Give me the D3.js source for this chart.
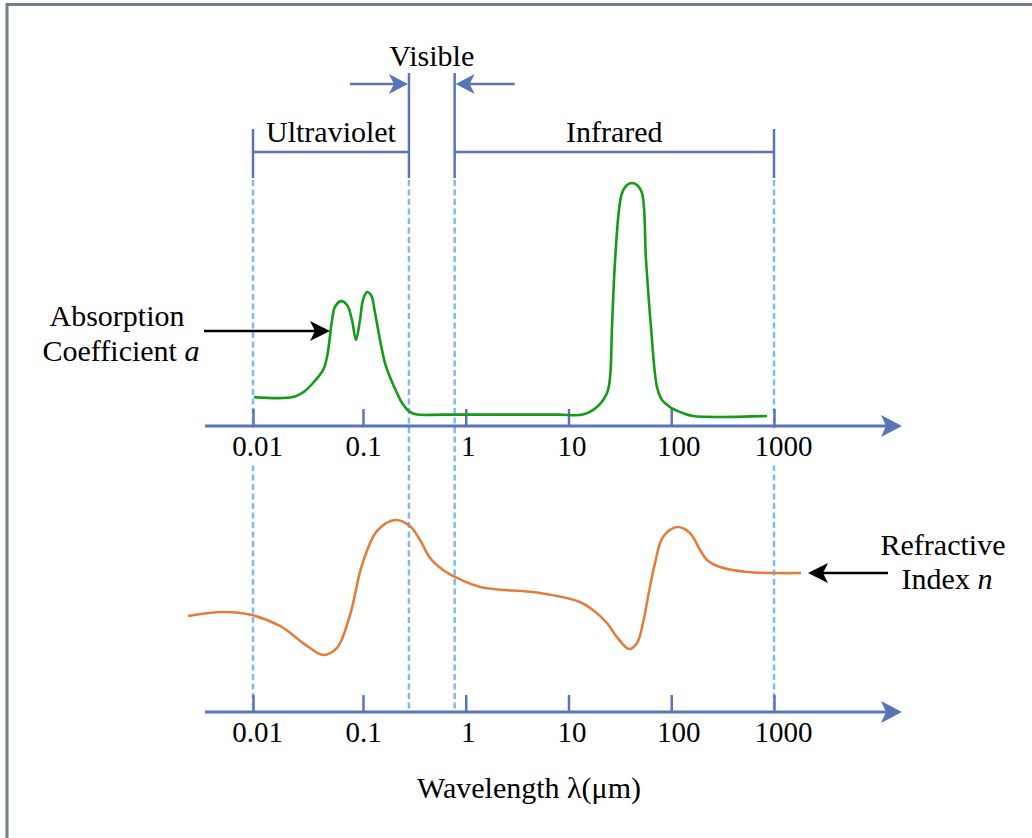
<!DOCTYPE html>
<html>
<head>
<meta charset="utf-8">
<script src="https://cdn.jsdelivr.net/npm/d3@7"></script>
<style>
  html, body { margin: 0; padding: 0; background: #fff; }
  svg text { font-family: "Liberation Serif", "Times New Roman", serif; fill: #000; }
</style>
</head>
<body>
<svg id="chart" width="1032" height="838"></svg>
<script>
// ---- data (wavelength in µm, curve values in relative units 0..1) ----
const tickValues = [0.01, 0.1, 1, 10, 100, 1000];
const tickLabels = ['0.01', '0.1', '1', '10', '100', '1000'];

// band edges: ultraviolet starts at 0.01, visible spans 0.28..0.78, infrared ends at 1000
const bandEdges = [0.01, 0.28, 0.78, 1000];
const bandNames = ['Ultraviolet', 'Visible', 'Infrared'];

const absorptionWl = [0.0102, 0.0231, 0.0297, 0.0351, 0.0433, 0.0471, 0.0523, 0.0556, 0.0631, 0.0716,
    0.0794, 0.0864, 0.0939, 0.1, 0.1094, 0.1197, 0.131, 0.1464, 0.1637, 0.183, 0.214, 0.24, 0.286, 0.336,
    0.6, 2.0, 8.0, 13.8, 18.9, 23.7, 25.4, 26.5, 28.4, 31.0, 33.2, 37.1, 41.5, 46.4, 51.9, 56.8, 63.5, 72.7,
    81.3, 97.3, 130, 163, 855];
const absorptionVal = [0.119, 0.119, 0.144, 0.177, 0.23, 0.284, 0.436, 0.49, 0.514, 0.498,
    0.436, 0.354, 0.436, 0.519, 0.551, 0.539, 0.465, 0.354, 0.259, 0.202, 0.136, 0.095, 0.058, 0.047,
    0.047, 0.047, 0.047, 0.047, 0.078, 0.136, 0.202, 0.407, 0.683, 0.889, 0.959, 0.992, 1.0, 0.992, 0.959, 0.683, 0.407, 0.16,
    0.107, 0.078, 0.053, 0.041, 0.041];

const indexWl = [0.00257, 0.00534, 0.0098, 0.0176, 0.031, 0.0433, 0.058, 0.0762, 0.098, 0.137,
    0.205, 0.286, 0.359, 0.449, 0.601, 0.785, 1.38, 5.28, 12.9, 17.3, 23.7, 29.6, 38.8, 46.4,
    53.1, 59.4, 69.5, 83.1, 114, 152, 190.5, 223, 298, 546, 978, 1832];
const indexVal = [0.289, 0.319, 0.296, 0.215, 0.067, 0.0, 0.052, 0.296, 0.667, 0.919,
    1.0, 0.956, 0.852, 0.719, 0.63, 0.578, 0.504, 0.459, 0.393, 0.333, 0.237, 0.133, 0.044, 0.089,
    0.237, 0.43, 0.681, 0.874, 0.948, 0.904, 0.778, 0.704, 0.652, 0.615, 0.607, 0.607];

// ---- layout ----
const W = 1032, H = 838;
const COLORS = {
    axis: '#5a74b9',
    guide: '#7dbaf3',
    frame: '#737f8a',
    absorption: '#17991a',
    index: '#e07f3c',
    text: '#000'
};
const topAxisY = 426;
const bottomAxisY = 712;
const axisStartX = 205;
const axisEndX = 902;

const x = d3.scaleLog()
    .domain([0.01, 0.1, 1000])
    .range([253, 363, 774]);

const yA = d3.scaleLinear().domain([0, 1]).range([topAxisY, 183]);
const yN = d3.scaleLinear().domain([0, 1]).range([655, 520]);

const svg = d3.select('#chart');

/**
 * Concave arrowhead path with its tip at (0,0), pointing to +x.
 */
function arrowHead(len, half) {
    return `M0,0 L${-len},${-half} L${-len + 5},0 L${-len},${half} Z`;
}

/**
 * Horizontal arrow from x0 to the tip at x1.
 */
function drawArrow(g, x0, x1, y, color, width, len, half) {
    const dir = x1 > x0 ? 1 : -1;
    g.append('line')
        .attr('x1', x0).attr('x2', x1 - dir * (len - 6))
        .attr('y1', y).attr('y2', y)
        .attr('stroke', color).attr('stroke-width', width);
    g.append('path')
        .attr('d', arrowHead(len, half))
        .attr('transform', `translate(${x1},${y}) scale(${dir},1)`)
        .attr('fill', color);
}

// frame (only top and left edges fall inside the picture)
svg.append('path')
    .attr('d', `M7,${H} L7,4.5 L${W},4.5`)
    .attr('fill', 'none')
    .attr('stroke', COLORS.frame)
    .attr('stroke-width', 3);

// dashed guides at the band edges
svg.append('g').attr('class', 'guides')
    .selectAll('line')
    .data(bandEdges)
    .join('line')
    .attr('x1', d => x(d)).attr('x2', d => x(d))
    .attr('y1', 180).attr('y2', bottomAxisY)
    .attr('stroke', COLORS.guide)
    .attr('stroke-width', 2.5)
    .attr('stroke-dasharray', '6,3.5');

// band brackets
const brackets = svg.append('g').attr('class', 'brackets')
    .attr('stroke', COLORS.axis).attr('stroke-width', 2.5).attr('fill', 'none');
const bx = bandEdges.map(x);
brackets.append('path').attr('d', `M${bx[0]},129 V178 M${bx[0]},152 H${bx[1]}`);
brackets.append('path').attr('d', `M${bx[1]},73 V178 M${bx[2]},73 V178`);
brackets.append('path').attr('d', `M${bx[2]},152 H${bx[3]} M${bx[3]},129 V178`);

const arrows = svg.append('g').attr('class', 'arrows');
drawArrow(arrows, bx[1] - 59, bx[1] - 1, 84, COLORS.axis, 2.5, 19, 10);
drawArrow(arrows, bx[2] + 60, bx[2] + 1, 84, COLORS.axis, 2.5, 19, 10);

const labels = svg.append('g').attr('class', 'band-labels')
    .attr('font-size', 30).attr('text-anchor', 'middle');
labels.append('text').attr('x', (bx[0] + bx[1]) / 2).attr('y', 142).text(bandNames[0]);
labels.append('text').attr('x', (bx[1] + bx[2]) / 2).attr('y', 66).text(bandNames[1]);
labels.append('text').attr('x', (bx[2] + bx[3]) / 2).attr('y', 142).text(bandNames[2]);

/**
 * Log axis with upward ticks, drawn at y, with an arrow at its end.
 */
function drawAxis(y, masked) {
    const g = svg.append('g')
        .attr('class', 'axis')
        .attr('transform', `translate(0,${y})`);
    const axis = d3.axisBottom(x)
        .tickValues(tickValues)
        .tickFormat((d, i) => tickLabels[i])
        .tickSizeInner(-17)
        .tickSizeOuter(0)
        .tickPadding(9);
    g.call(axis);
    g.select('.domain').remove();
    g.selectAll('.tick line').attr('stroke', COLORS.axis).attr('stroke-width', 2.5);
    g.selectAll('.tick text')
        .attr('font-size', 29)
        .attr('font-family', '"Liberation Serif", "Times New Roman", serif')
        .attr('fill', COLORS.text)
        .attr('dx', (d, i) => [4, 0, 2, 3, 7, 9][i]);
    if (masked) {
        // white boxes keep the dashed guides from running through the labels
        g.selectAll('.tick').each(function() {
            const t = d3.select(this).select('text');
            const b = t.node().getBBox();
            d3.select(this).insert('rect', 'text')
                .attr('x', b.x - 2 + (+t.attr('dx')))
                .attr('y', 2)
                .attr('width', b.width + 4)
                .attr('height', b.y + b.height + 2)
                .attr('fill', '#fff');
        });
    }
    drawArrow(g, axisStartX, axisEndX, 0, COLORS.axis, 3, 21, 11);
}

drawAxis(topAxisY, true);
drawAxis(bottomAxisY, false);

// curves
const lineA = d3.line()
    .x((d, i) => x(absorptionWl[i]))
    .y(d => yA(d))
    .curve(d3.curveCatmullRom.alpha(0.5));
svg.append('path')
    .datum(absorptionVal)
    .attr('d', lineA)
    .attr('fill', 'none')
    .attr('stroke', COLORS.absorption)
    .attr('stroke-width', 2.6);

const lineN = d3.line()
    .x((d, i) => x(indexWl[i]))
    .y(d => yN(d))
    .curve(d3.curveCatmullRom.alpha(0.5));
svg.append('path')
    .datum(indexVal)
    .attr('d', lineN)
    .attr('fill', 'none')
    .attr('stroke', COLORS.index)
    .attr('stroke-width', 2.6);

// annotations
const notes = svg.append('g').attr('font-size', 30).attr('text-anchor', 'middle');
notes.append('text').attr('x', 117).attr('y', 326).text('Absorption');
const coef = notes.append('text').attr('x', 121).attr('y', 361);
coef.append('tspan').text('Coefficient ');
coef.append('tspan').attr('font-style', 'italic').text('a');
drawArrow(svg.append('g'), 204, 330, 331, '#000', 2.5, 20, 10);

notes.append('text').attr('x', 943).attr('y', 555).text('Refractive');
const idx = notes.append('text').attr('x', 947).attr('y', 589);
idx.append('tspan').text('Index ');
idx.append('tspan').attr('font-style', 'italic').text('n');
drawArrow(svg.append('g'), 888, 808, 573, '#000', 2.5, 20, 10);

notes.append('text').attr('x', 529).attr('y', 798).text('Wavelength λ(μm)');
</script>
</body>
</html>
